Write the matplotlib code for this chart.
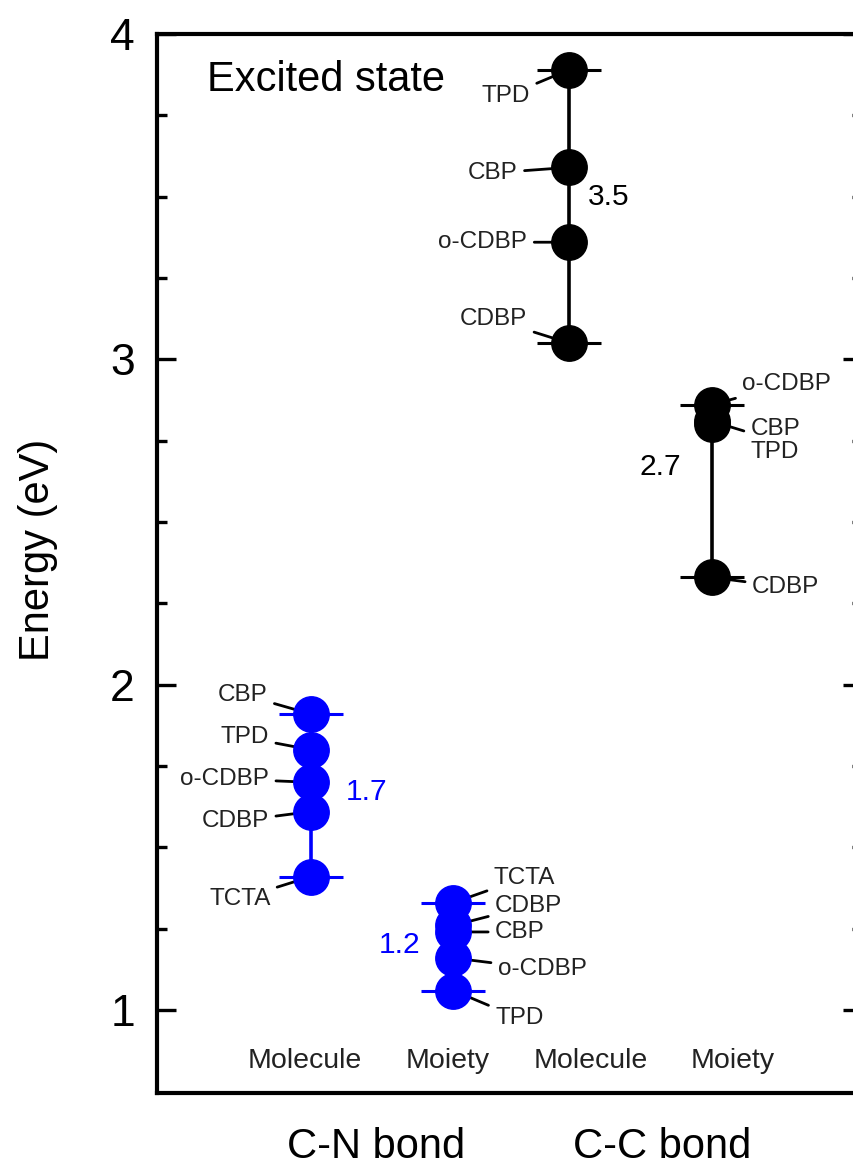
"""Excited-state energies for C-N and C-C bonds (molecule vs. moiety)."""

import matplotlib.pyplot as plt
import matplotlib.transforms as mtransforms
from matplotlib.ticker import FixedLocator, MultipleLocator

plt.rcParams['font.family'] = ['Liberation Sans', 'DejaVu Sans']

# ---- data -----------------------------------------------------------------
GROUPS = ["C-N bond", "C-C bond"]
CATEGORIES = ["Molecule", "Moiety", "Molecule", "Moiety"]

CN_MOLECULE_NAMES = ["CBP", "TPD", "o-CDBP", "CDBP", "TCTA"]
CN_MOLECULE_E = [1.91, 1.80, 1.70, 1.61, 1.41]
CN_MOIETY_NAMES = ["TCTA", "CDBP", "CBP", "o-CDBP", "TPD"]
CN_MOIETY_E = [1.33, 1.26, 1.24, 1.16, 1.06]
CC_MOLECULE_NAMES = ["TPD", "CBP", "o-CDBP", "CDBP"]
CC_MOLECULE_E = [3.89, 3.59, 3.36, 3.05]
CC_MOIETY_NAMES = ["o-CDBP", "CBP", "TPD", "CDBP"]
CC_MOIETY_E = [2.86, 2.81, 2.80, 2.33]

COLUMN_VALUES = ["1.7", "1.2", "3.5", "2.7"]

# ---- layout ---------------------------------------------------------------
CATEGORY_X = [1, 2, 3, 4]
GROUP_X = [1.5, 3.5]
COLUMN_X = [1.04, 2.04, 2.85, 3.85]
COLUMN_COLORS = ["#0000ff", "#0000ff", "black", "black"]
# caption position (x, y) in data units
CAPTION_POS = [(1.43, 1.67), (1.66, 1.20), (3.13, 3.50), (3.49, 2.67)]
# label offsets in points from the point, and alignment; None = no label
LABEL_LAYOUT = [
    {"CBP": (-31, 14, "right"), "TPD": (-30, 9, "right"),
     "o-CDBP": (-30, 2.5, "right"), "CDBP": (-30, -7, "right"),
     "TCTA": (-29, -16, "right")},
    {"TCTA": (29, 18, "left"), "CDBP": (30, 14, "left"),
     "CBP": (30, 0, "left"), "o-CDBP": (32, -8, "left"),
     "TPD": (30, -20, "left")},
    {"TPD": (-28, -19, "right"), "CBP": (-37, -4, "right"),
     "o-CDBP": (-30, 0, "right"), "CDBP": (-30, 17, "right")},
    {"o-CDBP": (22, 15, "left"), "CBP": (28, -14, "left"),
     "TPD": None, "CDBP": (29, -7, "left")},
]
LABEL_TEXT = {(3, "CBP"): "CBP\nTPD"}

columns = [
    (CN_MOLECULE_NAMES, CN_MOLECULE_E),
    (CN_MOIETY_NAMES, CN_MOIETY_E),
    (CC_MOLECULE_NAMES, CC_MOLECULE_E),
    (CC_MOIETY_NAMES, CC_MOIETY_E),
]

fig = plt.figure(figsize=(8.54, 11.66), dpi=100)
ax = fig.add_axes((157 / 854, 73 / 1166, 705 / 854, 1059 / 1166))

for i, (names, energies) in enumerate(columns):
    x = COLUMN_X[i]
    color = COLUMN_COLORS[i]
    lo, hi = min(energies), max(energies)
    mid = (lo + hi) / 2
    ax.errorbar([x], [mid], yerr=[[mid - lo], [hi - mid]], fmt="none",
                ecolor=color, elinewidth=2.6, capsize=23, capthick=2.2,
                zorder=2)
    ax.plot([x] * len(energies), energies, "o", color=color, ms=25.5,
            mec=color, zorder=3)

    for name, e in zip(names, energies):
        lay = LABEL_LAYOUT[i][name]
        if lay is None:
            continue
        dx, dy, ha = lay
        ax.annotate(LABEL_TEXT.get((i, name), name), xy=(x, e),
                    xytext=(dx, dy), textcoords="offset points",
                    ha=ha, va="center", fontsize=17.5, color="#222222",
                    linespacing=1.1, zorder=1,
                    arrowprops=dict(arrowstyle="-", color="black", lw=2.0,
                                    shrinkA=3, shrinkB=0))

    cx, cy = CAPTION_POS[i]
    ax.text(cx, cy, COLUMN_VALUES[i], ha="center", va="center",
            fontsize=21.5, color=color)

trans = mtransforms.blended_transform_factory(ax.transData, ax.transAxes)
for x, cat in zip(CATEGORY_X, CATEGORIES):
    ax.text(x, 0.0236, cat, transform=trans, ha="center", va="baseline",
            fontsize=20.5, color="#222222")
for x, grp in zip(GROUP_X, GROUPS):
    ax.text(x, -0.0614, grp, transform=trans, ha="center", va="baseline",
            fontsize=30, clip_on=False)

ax.text(0.071, 0.9566, "Excited state", transform=ax.transAxes,
        ha="left", va="center", fontsize=30)

ax.set_xlim(-0.037, 4.903)
ax.set_ylim(0.745, 4.0)
ax.set_xticks([])
ax.yaxis.set_major_locator(MultipleLocator(1))
ax.yaxis.set_minor_locator(FixedLocator([1 + 0.25 * k for k in range(13)]))
ax.tick_params(axis="y", which="both", direction="in", left=True, right=True,
               labelsize=32, pad=16)
ax.tick_params(axis="y", which="major", length=14, width=2.4)
ax.tick_params(axis="y", which="minor", length=7, width=2.4)
for spine in ax.spines.values():
    spine.set_linewidth(3)

ax.set_ylabel("Energy (eV)", fontsize=30)
ax.yaxis.set_label_coords(-0.14, 0.513)

fig.savefig("out.png", dpi=100)
